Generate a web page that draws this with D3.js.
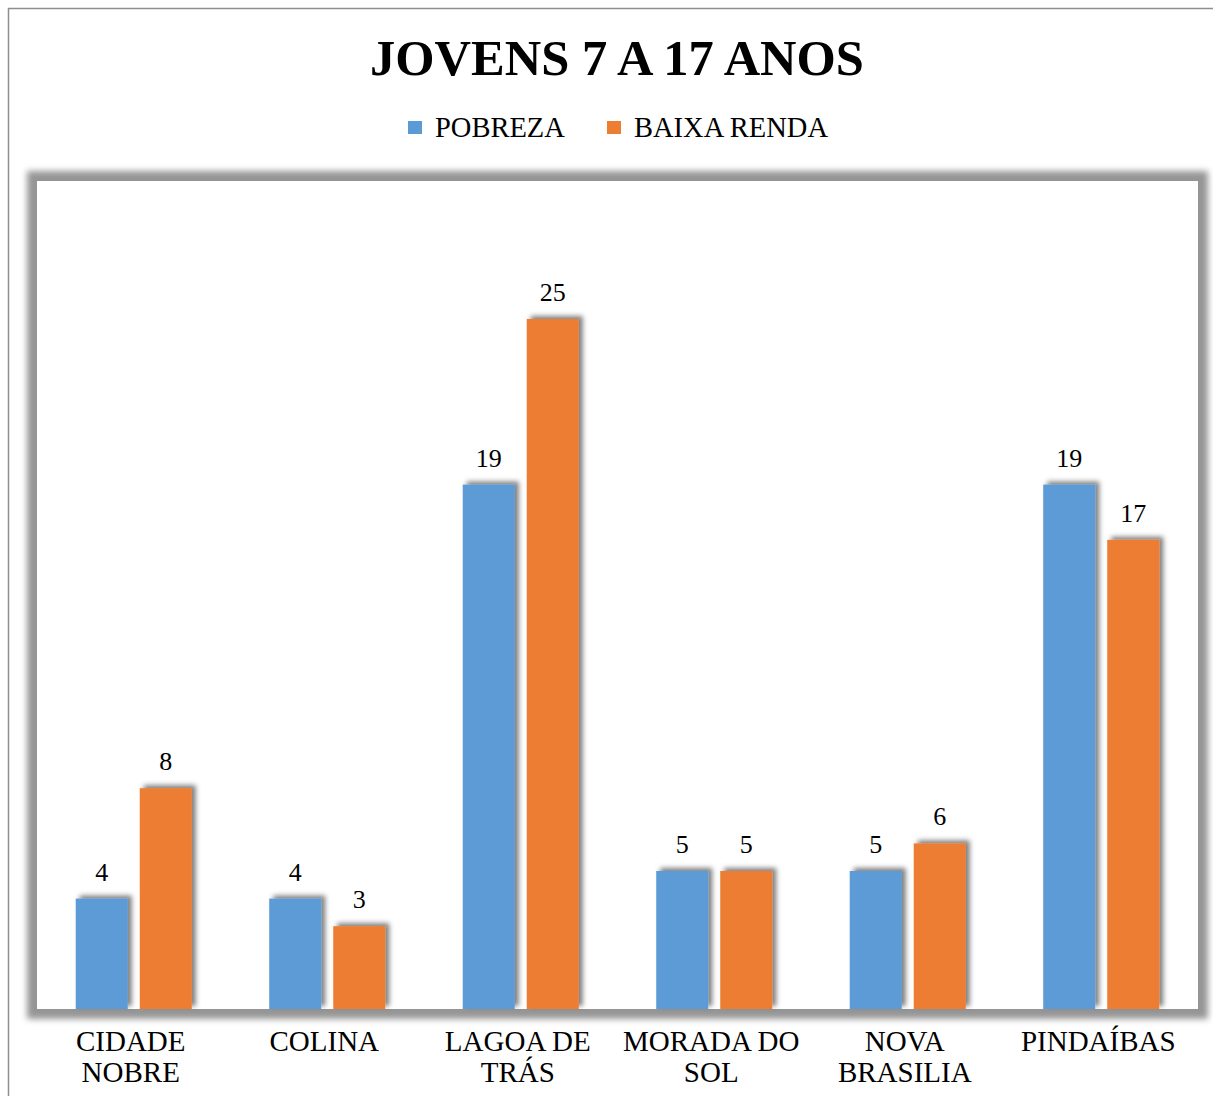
<!DOCTYPE html>
<html>
<head>
<meta charset="utf-8">
<script src="https://cdn.jsdelivr.net/npm/d3@7"></script>
<style>
  html, body { margin: 0; padding: 0; background: #fff; }
  svg { display: block; }
  text { font-family: "Liberation Serif", "DejaVu Serif", serif; fill: #000; }
</style>
</head>
<body>
<svg id="chart" width="1213" height="1096"></svg>
<script>
const categories = ["CIDADE NOBRE", "COLINA", "LAGOA DE TRÁS", "MORADA DO SOL", "NOVA BRASILIA", "PINDAÍBAS"];
const seriesNames = ["POBREZA", "BAIXA RENDA"];
const pobreza = [4, 4, 19, 5, 5, 19];
const baixaRenda = [8, 3, 25, 5, 6, 17];
const seriesColors = ["#5B9BD5", "#ED7D31"];
const titleText = "JOVENS 7 A 17 ANOS";
const yMax = 30;

const seriesValues = [pobreza, baixaRenda];
const data = categories.map((c, i) => ({
  cat: c,
  values: seriesNames.map((s, j) => ({ series: s, value: seriesValues[j][i], color: seriesColors[j] }))
}));

const svg = d3.select("#chart");
const W = 1213, H = 1096;
const plot = { left: 37, top: 181, right: 1198, bottom: 1009 };

const defs = svg.append("defs");
const fPlot = defs.append("filter").attr("id", "plotShadow")
  .attr("x", "-5%").attr("y", "-5%").attr("width", "110%").attr("height", "110%");
fPlot.append("feGaussianBlur").attr("stdDeviation", 3);

const fBar = defs.append("filter").attr("id", "barShadow")
  .attr("x", "-40%").attr("y", "-20%").attr("width", "180%").attr("height", "140%");
fBar.append("feDropShadow").attr("dx", 4).attr("dy", -3).attr("stdDeviation", 2.5)
  .attr("flood-color", "#000").attr("flood-opacity", 0.5);

// outer chart border
svg.append("rect").attr("x", 8.5).attr("y", 8.5).attr("width", W).attr("height", H)
  .attr("fill", "#fff").attr("stroke", "#8e8e8e").attr("stroke-width", 1.5);

// title
svg.append("text").attr("x", 617).attr("y", 75).attr("text-anchor", "middle")
  .attr("font-size", 50.5).attr("font-weight", "bold").text(titleText);

// legend
const legendItems = [{ name: seriesNames[0], color: seriesColors[0], x: 408 }, { name: seriesNames[1], color: seriesColors[1], x: 607 }];
const lg = svg.append("g");
legendItems.forEach(d => {
  lg.append("rect").attr("x", d.x).attr("y", 121).attr("width", 14).attr("height", 13).attr("fill", d.color);
  lg.append("text").attr("x", d.x + 27).attr("y", 137).attr("font-size", 28.5).text(d.name);
});

// plot area with shadow
svg.append("rect").attr("x", plot.left - 10).attr("y", plot.top - 10)
  .attr("width", plot.right - plot.left + 20).attr("height", plot.bottom - plot.top + 20)
  .attr("fill", "#959595").attr("filter", "url(#plotShadow)");
svg.append("rect").attr("x", plot.left).attr("y", plot.top)
  .attr("width", plot.right - plot.left).attr("height", plot.bottom - plot.top)
  .attr("fill", "#fff");

// scales
const x0 = d3.scaleBand().domain(categories).range([plot.left, plot.right]).padding(0);
const bw0 = x0.bandwidth();
const x1 = d3.scaleBand().domain(seriesNames).range([0, bw0]).paddingInner(0.1875).paddingOuter(0.605);
const y = d3.scaleLinear().domain([0, yMax]).range([plot.bottom, plot.top]);

// bars
const groups = svg.append("g").selectAll("g").data(data).join("g")
  .attr("transform", d => `translate(${x0(d.cat)},0)`);
groups.selectAll("rect").data(d => d.values).join("rect")
  .attr("x", d => x1(d.series))
  .attr("y", d => y(d.value))
  .attr("width", x1.bandwidth())
  .attr("height", d => y(0) - y(d.value))
  .attr("fill", d => d.color)
  .attr("filter", "url(#barShadow)");
groups.selectAll("text.val").data(d => d.values).join("text")
  .attr("class", "val")
  .attr("x", d => x1(d.series) + x1.bandwidth() / 2)
  .attr("y", d => y(d.value) - 18)
  .attr("text-anchor", "middle")
  .attr("font-size", 26)
  .text(d => d.value);

// x axis labels (wrapped)
const xAxis = d3.axisBottom(x0).tickSize(0).tickPadding(0);
const axisG = svg.append("g").attr("transform", `translate(-3,${plot.bottom})`).call(xAxis);
axisG.select(".domain").remove();
axisG.selectAll(".tick text").each(function(d) {
  const t = d3.select(this);
  t.attr("font-size", 29).attr("font-family", "Liberation Serif").attr("fill", "#000")
   .attr("y", 0).attr("dy", null).text(null);
  const words = d.split(" ");
  const maxW = bw0 - 6;
  const lines = [];
  let cur = [];
  const probe = t.append("tspan");
  words.forEach(w => {
    const test = cur.concat([w]).join(" ");
    probe.text(test);
    if (probe.node().getComputedTextLength() > maxW && cur.length) {
      lines.push(cur.join(" "));
      cur = [w];
    } else cur.push(w);
  });
  if (cur.length) lines.push(cur.join(" "));
  probe.remove();
  lines.forEach((ln, i) => {
    t.append("tspan").attr("x", 0).attr("y", 42 + i * 31).text(ln);
  });
});
</script>
</body>
</html>
